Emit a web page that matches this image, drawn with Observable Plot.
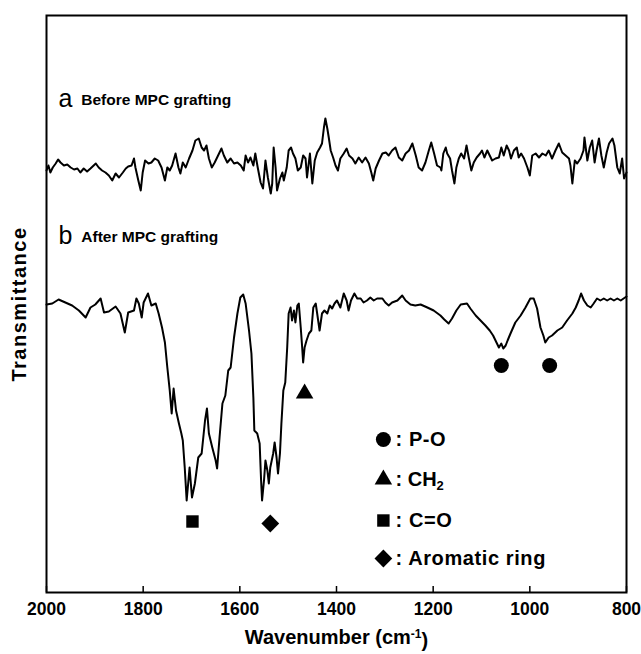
<!DOCTYPE html>
<html><head><meta charset="utf-8">
<script src="https://cdn.jsdelivr.net/npm/d3@7"></script>
<script src="https://cdn.jsdelivr.net/npm/@observablehq/plot@0.6"></script>
<style>body{margin:0;background:#fff} #chart svg{display:block}</style>
</head><body><div id="chart"></div>
<script>
// Spectrum a (before grafting): wavenumber (cm-1) and transmittance (arb. units)
const wnA = [2000,1996,1992,1987,1981,1976,1971,1964,1957,1950,1943,1936,1930,1923,1916,1909,1898,1892,1885,1878,
1871,1864,1857,1850,1842,1836,1831,1824,1819,1816,1810,1805,1801,1796,1789,1783,1776,1769,1762,1755,
1750,1745,1740,1733,1727,1723,1718,1712,1705,1698,1692,1685,1679,1674,1669,1664,1658,1652,1645,1638,
1633,1626,1619,1612,1605,1598,1592,1588,1583,1578,1572,1568,1563,1557,1552,1547,1542,1536,1533,1530,
1526,1523,1517,1512,1509,1503,1499,1494,1490,1485,1480,1474,1469,1464,1461,1455,1450,1445,1440,1434,
1430,1426,1423,1419,1416,1412,1407,1402,1397,1392,1385,1379,1374,1367,1361,1354,1347,1340,1333,1328,
1324,1319,1312,1305,1298,1292,1285,1278,1271,1264,1257,1250,1243,1236,1230,1223,1216,1209,1204,1198,
1192,1185,1183,1179,1174,1171,1165,1161,1156,1152,1147,1142,1136,1131,1126,1121,1116,1110,1103,1099,
1094,1088,1083,1078,1071,1064,1059,1054,1048,1043,1039,1033,1027,1023,1018,1012,1005,1000,995,988,
981,974,967,961,954,947,940,933,926,919,916,912,907,902,895,889,887,881,876,871,
866,862,857,852,847,841,836,829,825,819,814,809,805,800];
const tA = [422,427,420,425,429,433,430,427,428,425,423,424,420,424,421,424,429,425,422,420,
417,412,419,415,420,424,426,427,434,425,412,402,420,432,429,430,434,432,425,412,
425,422,427,439,425,419,430,425,434,442,452,454,445,442,447,434,425,430,437,444,
437,430,434,429,430,427,422,437,430,435,427,439,425,410,404,432,415,399,409,445,
425,402,414,420,412,425,442,445,439,434,422,425,437,434,415,439,409,432,440,445,
449,465,474,464,455,442,435,427,422,434,439,444,437,434,429,435,430,435,429,420,
412,424,432,439,440,437,442,445,435,432,439,442,449,437,425,422,430,442,450,439,
427,425,422,439,445,439,434,422,409,425,434,439,434,447,434,422,430,435,439,442,
435,442,437,432,434,435,445,437,447,442,434,442,445,435,439,434,425,417,437,439,
435,439,437,442,434,442,449,440,437,434,427,409,432,429,434,442,455,432,445,452,
430,442,454,437,425,440,449,454,447,425,419,434,414,420];

// Spectrum b (after grafting)
const wnB = [2000,1988,1975,1961,1947,1933,1919,1909,1899,1888,1881,1871,1857,1847,1838,1831,1819,1814,1809,1803,
1799,1790,1783,1774,1768,1761,1755,1750,1745,1741,1737,1732,1726,1721,1718,1714,1710,1704,1699,1693,
1686,1679,1672,1668,1664,1657,1650,1647,1642,1636,1630,1624,1619,1612,1605,1599,1593,1588,1581,1576,
1572,1570,1564,1559,1556,1554,1550,1547,1543,1540,1537,1531,1528,1524,1521,1517,1514,1510,1506,1502,
1499,1495,1492,1488,1485,1481,1478,1474,1471,1469,1466,1462,1457,1452,1448,1443,1440,1435,1430,1425,
1419,1414,1409,1404,1399,1392,1385,1379,1375,1370,1363,1357,1350,1344,1337,1330,1323,1316,1305,1299,
1292,1285,1274,1264,1257,1247,1237,1226,1212,1199,1185,1177,1168,1161,1152,1143,1130,1123,1112,1102,
1092,1083,1076,1069,1064,1059,1055,1050,1046,1040,1030,1019,1009,999,992,985,978,972,968,961,
954,943,933,923,912,905,899,894,888,881,874,868,861,854,847,840,833,826,819,812,
806,800];
const tB = [288,289,293,290,287,282,275,285,288,294,280,281,286,279,260,280,282,294,289,275,
290,299,287,289,279,265,250,225,202,179,204,182,169,159,152,125,92,125,95,109,
135,139,172,184,159,145,132,124,155,189,197,222,225,255,279,295,298,289,262,239,
195,162,159,149,112,92,112,132,122,109,125,139,150,135,119,139,169,202,210,245,
279,285,272,282,270,287,289,265,245,230,245,252,259,262,285,289,279,262,279,282,
279,287,284,289,292,285,299,292,282,292,299,294,294,290,292,295,292,294,294,290,
287,290,292,297,292,288,287,288,285,282,277,273,269,274,282,288,289,284,277,272,
267,262,257,250,245,249,244,247,252,259,270,277,285,294,294,284,265,257,250,255,
257,262,265,272,279,285,292,299,292,287,285,289,294,292,294,292,294,292,294,292,
294,296];

// Peak assignment markers
const markerWn = [1059, 959, 1466, 1698, 1537];
const markerT = [227, 227, 199, 71, 69];
const markerShape = ["circle", "circle", "triangle", "square", "diamond2"];

// Legend
const legendShape = ["circle", "triangle", "square", "diamond2"];
const legendText = [": P-O", ": CH2", ": C=O", ": Aromatic ring"];
const legendT = [153, 113, 72, 34];
const legendSymWn = 1303;
const legendTextWn = 1278;

// Spectrum labels
const seriesLetter = ["a", "b"];
const seriesName = ["Before MPC grafting", "After MPC grafting"];
const seriesLabelT = [492, 355];

const xTicks = [2000, 1800, 1600, 1400, 1200, 1000, 800];

const specA = wnA.map((w, i) => ({wn: w, t: tA[i]}));
const specB = wnB.map((w, i) => ({wn: w, t: tB[i]}));
const markers = markerWn.map((w, i) => ({wn: w, t: markerT[i], shape: markerShape[i]}));
const legend = legendShape.map((s, i) => ({shape: s, text: legendText[i], t: legendT[i]}));
const labels = seriesLetter.map((l, i) => ({letter: l, name: seriesName[i], t: seriesLabelT[i]}));

const font = "'Liberation Sans', Arial, Helvetica, sans-serif";
const sizeOf = {circle: 7.5, triangle: 6.5, square: 7, diamond2: 8};

const dotMarks = [];
for (const s of ["circle", "triangle", "square", "diamond2"]) {
  dotMarks.push(Plot.dot(markers, {filter: d => d.shape === s, x: "wn", y: "t", symbol: s, r: sizeOf[s], fill: "#000", stroke: "none"}));
  dotMarks.push(Plot.dot(legend, {filter: d => d.shape === s, x: () => legendSymWn, y: "t", symbol: s, r: sizeOf[s], fill: "#000", stroke: "none"}));
}

const chart = Plot.plot({
  width: 641, height: 654,
  marginTop: 15, marginLeft: 46, marginRight: 15, marginBottom: 62,
  style: {fontFamily: font, background: "#fff", color: "#000"},
  x: {domain: [2000, 800]},
  y: {domain: [0, 577]},
  marks: [
    Plot.ruleX(xTicks, {x: d => d, y1: 0, y2: 6, stroke: "#000", strokeWidth: 1.5}),
    Plot.axisX({ticks: xTicks, tickSize: 0, tickPadding: 10, tickFormat: d => String(d), label: null, fontSize: 17.5, fontWeight: "bold", fill: "#000"}),
    Plot.axisY({ticks: [], label: null}),
    Plot.line(specA, {x: "wn", y: "t", stroke: "#000", strokeWidth: 2, strokeLinejoin: "round"}),
    Plot.line(specB, {x: "wn", y: "t", stroke: "#000", strokeWidth: 2, strokeLinejoin: "round"}),
    ...dotMarks,
    Plot.text(legend, {x: () => legendTextWn, y: "t", text: "text", textAnchor: "start", fontSize: 20, fontWeight: "bold", fill: "#000"}),
    Plot.text(labels, {x: () => 1975, y: "t", text: "letter", textAnchor: "start", fontSize: 25, fill: "#000", dy: -2}),
    Plot.text(labels, {x: () => 1928, y: "t", text: "name", textAnchor: "start", fontSize: 15.5, fontWeight: "bold", fill: "#000"}),
    Plot.text(["Transmittance"], {frameAnchor: "left", textAnchor: "middle", dx: -27, rotate: -90, fontSize: 20, fontWeight: "bold", fill: "#000"}),
    Plot.text(["Wavenumber (cm-1)"], {frameAnchor: "bottom", textAnchor: "middle", lineAnchor: "bottom", dy: 51, fontSize: 20, fontWeight: "bold", fill: "#000"}),
    Plot.frame({stroke: "#000", strokeWidth: 2})
  ]
});

// sub/superscripts and spacing tweaks
d3.select(chart).selectAll("text").each(function () {
  const s = this.textContent;
  if (s === ": CH2") {
    this.textContent = "";
    const el = d3.select(this);
    el.append("tspan").text(": CH");
    el.append("tspan").attr("dy", "0.3em").attr("font-size", "13").text("2");
  } else if (s === "Wavenumber (cm-1)") {
    this.textContent = "";
    const el = d3.select(this);
    el.append("tspan").text("Wavenumber (cm");
    el.append("tspan").attr("dy", "-0.45em").attr("font-size", "12").text("-1");
    el.append("tspan").attr("dy", "0.45em").text(")");
  } else if (s === "Transmittance") {
    this.style.letterSpacing = "1.5px";
  } else if (s.startsWith(": ")) {
    this.style.letterSpacing = "0.6px";
  }
});

document.getElementById("chart").appendChild(chart);
</script>
</body></html>
